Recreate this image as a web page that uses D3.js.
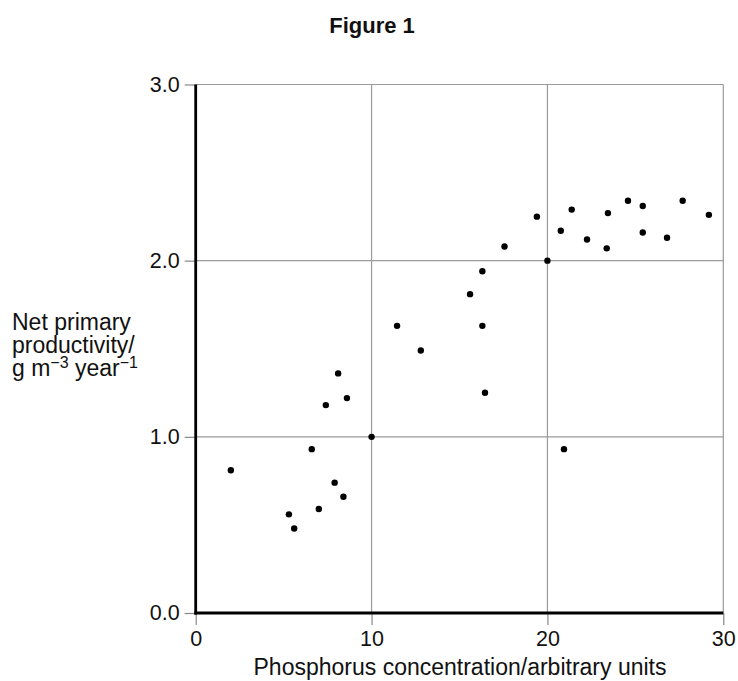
<!DOCTYPE html>
<html><head><meta charset="utf-8">
<script src="https://cdn.jsdelivr.net/npm/d3@7"></script>
<style>body{margin:0;background:#fff}text{font-family:"Liberation Sans",Arial,sans-serif;fill:#111}</style>
</head><body><svg id="c" width="738" height="681"></svg>
<script>
const phosphorus = [2.0,5.3,5.6,6.6,7.0,7.4,7.9,8.1,8.4,8.6,10.0,11.45,12.8,15.6,16.3,16.3,16.45,17.56,19.4,20.0,20.76,20.94,21.38,22.25,23.44,23.37,24.58,25.42,25.42,26.8,27.69,29.18];
const productivity = [0.81,0.56,0.48,0.93,0.59,1.18,0.74,1.36,0.66,1.22,1.0,1.63,1.49,1.81,1.94,1.63,1.25,2.08,2.25,2.0,2.17,0.93,2.29,2.12,2.27,2.07,2.34,2.31,2.16,2.13,2.34,2.26];
const xTicks = [0,10,20,30];
const yTicks = [0,1,2,3];

const svg = d3.select("#c");
const x = d3.scaleLinear().domain([0,30]).range([195.7,723.3]);
const y = d3.scaleLinear().domain([0,3]).range([613,84.5]);

// grid
svg.append("g").selectAll("line").data(xTicks.slice(1)).join("line")
  .attr("x1",d=>x(d)).attr("x2",d=>x(d)).attr("y1",y(3)).attr("y2",y(0))
  .attr("stroke","#9a9a9a").attr("stroke-width",1.2);
svg.append("g").selectAll("line").data(yTicks.slice(1)).join("line")
  .attr("x1",x(0)).attr("x2",x(30)).attr("y1",d=>y(d)).attr("y2",d=>y(d))
  .attr("stroke","#9a9a9a").attr("stroke-width",1.2);

// axes
const xa = svg.append("g").attr("transform",`translate(0,${y(0)})`)
  .call(d3.axisBottom(x).tickValues(xTicks).tickFormat(d3.format("d")).tickSize(12).tickPadding(6));
const ya = svg.append("g").attr("transform",`translate(${x(0)},0)`)
  .call(d3.axisLeft(y).tickValues(yTicks).tickFormat(d3.format(".1f")).tickSize(11).tickPadding(5));
[xa,ya].forEach(a=>{
  a.select(".domain").remove();
  a.selectAll(".tick line").attr("stroke","#888").attr("stroke-width",1.2);
  a.selectAll(".tick text").style("font-size","21.5px").style("font-family","'Liberation Sans',Arial,sans-serif").attr("fill","#111");
});
svg.append("line").attr("x1",x(0)).attr("x2",x(0)).attr("y1",y(3)).attr("y2",y(0)+1.5).attr("stroke","#000").attr("stroke-width",2.8);
svg.append("line").attr("x1",x(0)-1.4).attr("x2",x(30)).attr("y1",y(0)).attr("y2",y(0)).attr("stroke","#000").attr("stroke-width",2.8);

// points
svg.append("g").selectAll("circle").data(phosphorus.map((p,i)=>[p,productivity[i]])).join("circle")
  .attr("cx",d=>x(d[0])).attr("cy",d=>y(d[1])).attr("r",3.2).attr("fill","#000");

// title
svg.append("text").attr("x",372).attr("y",33).attr("text-anchor","middle")
  .style("font-size","22px").style("font-weight","bold").text("Figure 1");

// y label
const yl = svg.append("text").style("font-size","23px");
yl.append("tspan").attr("x",12).attr("y",330).text("Net primary");
yl.append("tspan").attr("x",12).attr("y",353).text("productivity/");
const l3 = svg.append("text").attr("x",12).attr("y",376).style("font-size","23px");
l3.append("tspan").text("g m");
l3.append("tspan").attr("dy",-8).style("font-size","16px").text("\u22123");
l3.append("tspan").attr("dy",8).text(" year");
l3.append("tspan").attr("dy",-8).style("font-size","16px").text("\u22121");

// x label
svg.append("text").attr("x",460).attr("y",675).attr("text-anchor","middle")
  .style("font-size","23px").text("Phosphorus concentration/arbitrary units");
</script></body></html>
